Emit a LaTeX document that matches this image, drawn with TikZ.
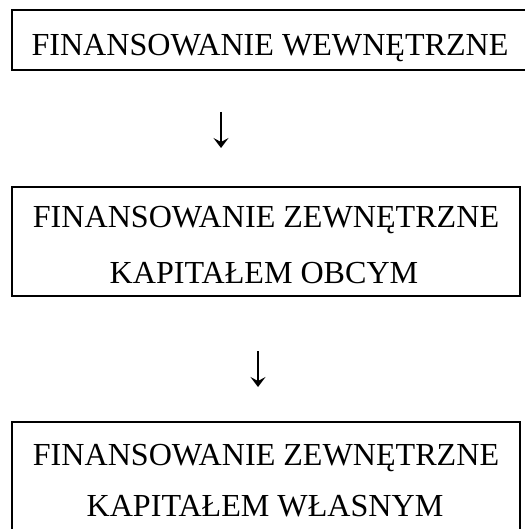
\documentclass[tikz,border=0pt]{standalone}
\usepackage{fontspec}
\setmainfont{Liberation Serif}
\usetikzlibrary{arrows.meta}
\begin{document}
\begin{tikzpicture}[x=1pt,y=-1pt,
  box/.style={draw, line width=1.5pt, inner sep=0pt},
  lbl/.style={anchor=base, inner sep=0pt, font=\fontsize{32.1}{38}\selectfont},
  downarr/.style={line width=2.2pt, -{Stealth[length=10pt, width=15pt, inset=4pt]}}]
\useasboundingbox (0,0) rectangle (524,529);
\node[box, minimum width=514pt, minimum height=60pt] (b1) at (269,40) {};
\node[box, minimum width=508pt, minimum height=109pt] (b2) at (266,241.5) {};
\node[box, minimum width=508pt, minimum height=109pt] (b3) at (266,476.5) {};
\node[lbl] (t1) at (270,56) {FINANSOWANIE WEWNĘTRZNE};
\node[lbl] (t2a) at (266,227) {FINANSOWANIE ZEWNĘTRZNE};
\node[lbl] (t2b) at (264,283) {KAPITAŁEM OBCYM};
\node[lbl] (t3a) at (266,465) {FINANSOWANIE ZEWNĘTRZNE};
\node[lbl] (t3b) at (265,516) {KAPITAŁEM WŁASNYM};
\coordinate (a1s) at (221,112);
\coordinate (a1e) at (221,148);
\coordinate (a2s) at (258,351);
\coordinate (a2e) at (258,387);
\draw[downarr] (a1s) -- (a1e);
\draw[downarr] (a2s) -- (a2e);
\end{tikzpicture}
\end{document}
